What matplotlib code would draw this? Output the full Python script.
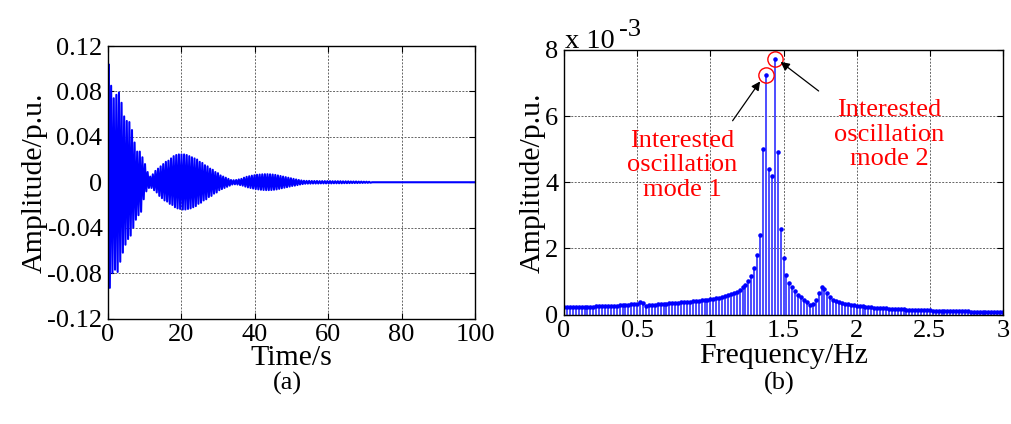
import numpy as np
import matplotlib
matplotlib.use('Agg')
import matplotlib.pyplot as plt

plt.rcParams['font.family'] = ['Liberation Serif', 'DejaVu Serif']

# ---- (a) time response: peak value of each oscillation cycle (p.u.) ----
cycle_period = 0.71  # s, one cycle of the ~1.41 Hz oscillation
first_peak_t = 0.15
upper_peaks = [
    0.104, 0.085, 0.074, 0.077, 0.079, 0.070, 0.058, 0.054, 0.053, 0.046,
    0.035, 0.027, 0.027, 0.022, 0.016, 0.009, 0.005, 0.007, 0.010, 0.012,
    0.014, 0.016, 0.018, 0.019, 0.021, 0.023, 0.024, 0.0245, 0.0245, 0.0245,
    0.024, 0.023, 0.022, 0.021, 0.020, 0.018, 0.017, 0.015, 0.014, 0.012,
    0.011, 0.009, 0.008, 0.006, 0.005, 0.004, 0.003, 0.002, 0.0018, 0.002,
    0.0025, 0.003, 0.004, 0.0048, 0.0053, 0.0058, 0.0062, 0.0066, 0.0068, 0.007,
    0.0071, 0.0071, 0.007, 0.0068, 0.0065, 0.006, 0.0055, 0.005, 0.0045, 0.004,
    0.0035, 0.003, 0.0025, 0.002, 0.0016, 0.0013, 0.0012, 0.0012, 0.0011, 0.0011,
    0.0011, 0.001, 0.001, 0.001, 0.001, 0.001, 0.0009, 0.0009, 0.0009, 0.0009,
    0.0008, 0.0008, 0.0008, 0.0007, 0.0007, 0.0007, 0.0006, 0.0006, 0.0005, 0.0005, 0.0004,
]
lower_peaks = [
    -0.093, -0.080, -0.077, -0.079, -0.070, -0.062, -0.055, -0.050, -0.047, -0.040,
    -0.033, -0.029, -0.026, -0.015, -0.008, -0.005, -0.005, -0.007, -0.009, -0.012,
    -0.014, -0.016, -0.017, -0.019, -0.020, -0.022, -0.023, -0.0235, -0.024, -0.024,
    -0.0235, -0.023, -0.022, -0.021, -0.019, -0.018, -0.016, -0.015, -0.013, -0.012,
    -0.010, -0.009, -0.007, -0.006, -0.005, -0.004, -0.003, -0.002, -0.0018, -0.002,
    -0.0025, -0.003, -0.0038, -0.0045, -0.005, -0.0055, -0.006, -0.0063, -0.0066, -0.0068,
    -0.0069, -0.0069, -0.0068, -0.0066, -0.0063, -0.0058, -0.0053, -0.0048, -0.0043, -0.0038,
    -0.0033, -0.003, -0.0025, -0.002, -0.0016, -0.0013, -0.0012, -0.0012, -0.0011, -0.0011,
    -0.0011, -0.001, -0.001, -0.001, -0.001, -0.001, -0.0009, -0.0009, -0.0009, -0.0009,
    -0.0008, -0.0008, -0.0008, -0.0007, -0.0007, -0.0007, -0.0006, -0.0006, -0.0005, -0.0005, -0.0004,
]
tail_t = [72.0, 100.0]
tail_v = [0.0, 0.0]

# ---- (b) spectrum, amplitude in 1e-3 p.u., one bin every 0.02 Hz from 0 to 3 Hz ----
freq_step = 0.02
spec_amp = [
    0.22, 0.22, 0.22, 0.23, 0.23, 0.23, 0.23, 0.24, 0.24, 0.24,
    0.24, 0.25, 0.25, 0.25, 0.26, 0.26, 0.26, 0.27, 0.27, 0.28,
    0.28, 0.29, 0.30, 0.31, 0.32, 0.33, 0.37, 0.36, 0.27, 0.28,
    0.29, 0.30, 0.31, 0.31, 0.32, 0.33, 0.34, 0.34, 0.35, 0.36,
    0.37, 0.38, 0.38, 0.39, 0.40, 0.41, 0.42, 0.43, 0.44, 0.45,
    0.46, 0.48, 0.49, 0.51, 0.53, 0.56, 0.58, 0.61, 0.65, 0.69,
    0.75, 0.82, 0.90, 1.00, 1.15, 1.40, 1.80, 2.40, 5.00, 7.25,
    4.40, 4.20, 7.73, 4.90, 2.60, 1.70, 1.20, 0.95, 0.82, 0.70,
    0.60, 0.52, 0.45, 0.38, 0.30, 0.33, 0.45, 0.65, 0.82, 0.78,
    0.65, 0.52, 0.45, 0.41, 0.38, 0.35, 0.33, 0.31, 0.29, 0.28,
    0.27, 0.26, 0.25, 0.24, 0.23, 0.22, 0.21, 0.21, 0.20, 0.19,
    0.19, 0.18, 0.18, 0.17, 0.17, 0.16, 0.16, 0.15, 0.15, 0.15,
    0.14, 0.14, 0.14, 0.13, 0.13, 0.13, 0.12, 0.12, 0.12, 0.12,
    0.11, 0.11, 0.11, 0.11, 0.10, 0.10, 0.10, 0.10, 0.10, 0.09,
    0.09, 0.09, 0.09, 0.09, 0.08, 0.08, 0.08, 0.08, 0.08, 0.08,
    0.07,
]
mode_bins = [69, 72]  # bins of the two interested modes (1.38 Hz, 1.44 Hz)
mode_labels = ['Interested\noscillation\nmode 1', 'Interested\noscillation\nmode 2']

# build signal polyline: upper peak, then lower peak half a cycle later
k = np.arange(len(upper_peaks))
t_up = first_peak_t + k * cycle_period
sig_t = np.column_stack([t_up, t_up + cycle_period / 2]).ravel()
sig_v = np.column_stack([upper_peaks, lower_peaks]).ravel()
sig_t = np.concatenate([[0.0], sig_t, tail_t])
sig_v = np.concatenate([[0.0], sig_v, tail_v])

spec_freq = np.arange(len(spec_amp)) * freq_step
spec_amp = np.array(spec_amp)

fig = plt.figure(figsize=(10.11, 4.24), dpi=100)
ax1 = fig.add_axes([0.1068, 0.2488, 0.3630, 0.6427])
ax2 = fig.add_axes([0.5579, 0.2582, 0.4342, 0.6239])

tick_fs = 19
label_fs = 21.5
grid_kw = dict(color='#666666', linestyle=(0, (2, 1.5)), linewidth=0.7)


def style_axes(ax):
    ax.tick_params(direction='in', length=4, width=0.8, top=True, right=True,
                   labelsize=tick_fs, pad=4)
    for sp in ax.spines.values():
        sp.set_linewidth(1.0)
    ax.grid(True, **grid_kw)
    ax.set_axisbelow(True)


# (a)
ax1.plot(sig_t, sig_v, color='#0000ff', linewidth=1.5)
ax1.set_xlim(0, 100)
ax1.set_ylim(-0.12, 0.12)
ax1.set_xticks([0, 20, 40, 60, 80, 100])
ax1.set_yticks([-0.12, -0.08, -0.04, 0, 0.04, 0.08, 0.12])
ax1.set_yticklabels(['-0.12', '-0.08', '-0.04', '0', '0.04', '0.08', '0.12'])
ax1.set_xlabel('Time/s', fontsize=label_fs, labelpad=-1)
ax1.set_ylabel('Amplitude/p.u.', fontsize=label_fs, labelpad=0)
style_axes(ax1)

# (b)
ax2.vlines(spec_freq, 0, spec_amp, color='#4d4dff', linewidth=1.4)
ax2.plot(spec_freq, spec_amp, linestyle='none', marker='.', markersize=4.5, color='#0000ff')
ax2.set_xlim(0, 3)
ax2.set_ylim(0, 8)
ax2.set_xticks([0, 0.5, 1, 1.5, 2, 2.5, 3])
ax2.set_xticklabels(['0', '0.5', '1', '1.5', '2', '2.5', '3'])
ax2.set_yticks([0, 2, 4, 6, 8])
ax2.set_xlabel('Frequency/Hz', fontsize=label_fs, labelpad=1)
ax2.set_ylabel('Amplitude/p.u.', fontsize=label_fs, labelpad=0)
style_axes(ax2)

# MATLAB-style exponent label above the axis
fig.text(565 / 1011, 1 - 48 / 424, 'x 10', fontsize=20.5, ha='left', va='baseline')
fig.text(619 / 1011, 1 - 36 / 424, '-3', fontsize=19, ha='left', va='baseline')

# circle the two modes and point at them
ax2.plot(spec_freq[mode_bins], spec_amp[mode_bins], linestyle='none', marker='o',
         markersize=11, markerfacecolor='none', markeredgecolor='red', markeredgewidth=1.0)

arrow_kw = dict(arrowstyle='-|>', color='black', lw=0.9, mutation_scale=13,
                shrinkA=0, shrinkB=0)
ax2.annotate('', xy=(1.34, 7.05), xytext=(1.152, 5.86), arrowprops=arrow_kw)
ax2.annotate('', xy=(1.48, 7.64), xytext=(1.74, 6.76), arrowprops=arrow_kw)

ax2.text(0.81, 4.52, mode_labels[0], color='red', fontsize=19, ha='center',
         va='center', multialignment='center', linespacing=1.15)
ax2.text(2.22, 5.44, mode_labels[1], color='red', fontsize=19, ha='center',
         va='center', multialignment='center', linespacing=1.15)

fig.text(287 / 1011, 1 - 383 / 424, '(a)', fontsize=19, ha='center', va='center')
fig.text(779 / 1011, 1 - 383 / 424, '(b)', fontsize=19, ha='center', va='center')

fig.savefig('out.png', dpi=100)
